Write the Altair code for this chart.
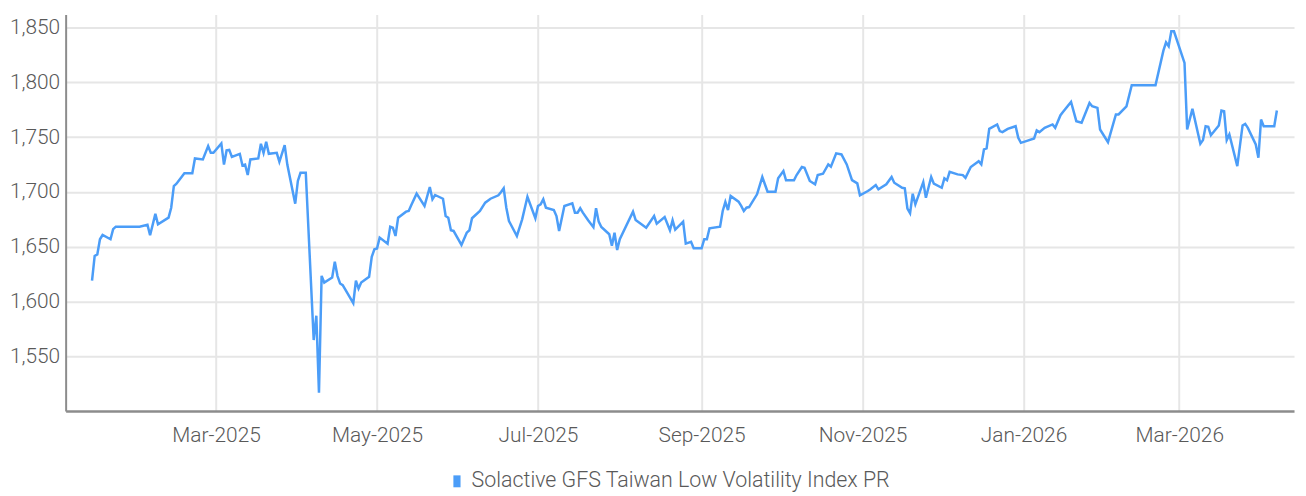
import altair as alt
import pandas as pd

SERIES_NAME = "Solactive GFS Taiwan Low Volatility Index PR"

dates = [
    "2025-01-13", "2025-01-14", "2025-01-15", "2025-01-16", "2025-01-17", "2025-01-20", "2025-01-21", "2025-01-22",
    "2025-01-31", "2025-02-03", "2025-02-04", "2025-02-06", "2025-02-07", "2025-02-11", "2025-02-12", "2025-02-13",
    "2025-02-14", "2025-02-17", "2025-02-20", "2025-02-21", "2025-02-24", "2025-02-26", "2025-02-27", "2025-02-28",
    "2025-03-03", "2025-03-04", "2025-03-05", "2025-03-06", "2025-03-07", "2025-03-10", "2025-03-11", "2025-03-12",
    "2025-03-13", "2025-03-14", "2025-03-17",
    "2025-03-18", "2025-03-19", "2025-03-20", "2025-03-21", "2025-03-24", "2025-03-25", "2025-03-27", "2025-03-28",
    "2025-03-31", "2025-04-01", "2025-04-02", "2025-04-04", "2025-04-07", "2025-04-08", "2025-04-09", "2025-04-10",
    "2025-04-11", "2025-04-14", "2025-04-15", "2025-04-16", "2025-04-17", "2025-04-18", "2025-04-22", "2025-04-23",
    "2025-04-24", "2025-04-25", "2025-04-28", "2025-04-29", "2025-04-30", "2025-05-01", "2025-05-02", "2025-05-05",
    "2025-05-06", "2025-05-07", "2025-05-08", "2025-05-09", "2025-05-12", "2025-05-13", "2025-05-14", "2025-05-16",
    "2025-05-19",
    "2025-05-21", "2025-05-22", "2025-05-23", "2025-05-26", "2025-05-27", "2025-05-28", "2025-05-29", "2025-05-30",
    "2025-06-02", "2025-06-04", "2025-06-05", "2025-06-06", "2025-06-09", "2025-06-11", "2025-06-13", "2025-06-16",
    "2025-06-17", "2025-06-18", "2025-06-19", "2025-06-20", "2025-06-23", "2025-06-25", "2025-06-27", "2025-06-30",
    "2025-07-01", "2025-07-02", "2025-07-03", "2025-07-04", "2025-07-07", "2025-07-08", "2025-07-09", "2025-07-11",
    "2025-07-14", "2025-07-15", "2025-07-16", "2025-07-17", "2025-07-18", "2025-07-20", "2025-07-22", "2025-07-23",
    "2025-07-24", "2025-07-25", "2025-07-28", "2025-07-29", "2025-07-30", "2025-07-31", "2025-08-01", "2025-08-06",
    "2025-08-07", "2025-08-11", "2025-08-14", "2025-08-15", "2025-08-18", "2025-08-20", "2025-08-21", "2025-08-22",
    "2025-08-25", "2025-08-26", "2025-08-28", "2025-08-29", "2025-09-01", "2025-09-02", "2025-09-03", "2025-09-04",
    "2025-09-08", "2025-09-09", "2025-09-10", "2025-09-11", "2025-09-12", "2025-09-15", "2025-09-16", "2025-09-17",
    "2025-09-18", "2025-09-19", "2025-09-22", "2025-09-24", "2025-09-26",
    "2025-09-29", "2025-09-30", "2025-10-02", "2025-10-03", "2025-10-06", "2025-10-07", "2025-10-09", "2025-10-10",
    "2025-10-12", "2025-10-14", "2025-10-15", "2025-10-17", "2025-10-19", "2025-10-20", "2025-10-22", "2025-10-24",
    "2025-10-26", "2025-10-28", "2025-10-30", "2025-10-31", "2025-11-03", "2025-11-04", "2025-11-06", "2025-11-07",
    "2025-11-10", "2025-11-12", "2025-11-13", "2025-11-16", "2025-11-17", "2025-11-18", "2025-11-19", "2025-11-20",
    "2025-11-21", "2025-11-24", "2025-11-25", "2025-11-27",
    "2025-11-28", "2025-12-01", "2025-12-02", "2025-12-03", "2025-12-04", "2025-12-07", "2025-12-09", "2025-12-10",
    "2025-12-12", "2025-12-15", "2025-12-16", "2025-12-17", "2025-12-18", "2025-12-19", "2025-12-22", "2025-12-23",
    "2025-12-24", "2025-12-26", "2025-12-29", "2025-12-30", "2025-12-31", "2026-01-02", "2026-01-05", "2026-01-06",
    "2026-01-07", "2026-01-09", "2026-01-12", "2026-01-13", "2026-01-15", "2026-01-16", "2026-01-19", "2026-01-21",
    "2026-01-23", "2026-01-26", "2026-01-27", "2026-01-29", "2026-01-30",
    "2026-02-02", "2026-02-05", "2026-02-06", "2026-02-09", "2026-02-11", "2026-02-20", "2026-02-23", "2026-02-24",
    "2026-02-25", "2026-02-26", "2026-02-27", "2026-03-03", "2026-03-04", "2026-03-06", "2026-03-09", "2026-03-10",
    "2026-03-11", "2026-03-12", "2026-03-13", "2026-03-16", "2026-03-17", "2026-03-18", "2026-03-19", "2026-03-20",
    "2026-03-23", "2026-03-25", "2026-03-26", "2026-03-27", "2026-03-30", "2026-03-31", "2026-04-01", "2026-04-02",
    "2026-04-06", "2026-04-07",
]

values = [
    1619.0, 1641.6, 1643.0, 1656.8, 1660.7, 1656.8, 1666.0, 1668.3,
    1668.3, 1670.0, 1660.5, 1680.0, 1670.5, 1676.5, 1685.6, 1705.4,
    1707.5, 1717.0, 1717.0, 1730.6, 1729.7, 1741.8, 1735.7, 1735.7,
    1744.3, 1725.0, 1737.9, 1738.4, 1732.0, 1734.8, 1724.2, 1725.0,
    1715.4, 1729.7, 1730.6,
    1743.9, 1735.7, 1745.7, 1734.8, 1735.7, 1727.5, 1742.7, 1725.0,
    1689.3, 1710.0, 1717.5, 1717.5, 1564.8, 1587.0, 1516.6, 1623.4,
    1617.3, 1621.9, 1636.2, 1623.4, 1616.4, 1614.9, 1598.5, 1618.9,
    1611.8, 1617.3, 1622.5, 1640.7, 1647.7, 1648.3, 1658.3, 1652.8,
    1668.3, 1667.4, 1659.8, 1676.5, 1682.0, 1682.6, 1688.0, 1698.4,
    1687.2,
    1704.5, 1693.3, 1697.2, 1693.8, 1678.0, 1676.5, 1665.0, 1664.4,
    1651.6, 1662.8, 1665.0, 1676.0, 1682.6, 1690.2, 1693.8, 1696.9,
    1699.9, 1703.3, 1685.6, 1673.5, 1659.8, 1675.0, 1695.6, 1676.0,
    1687.2, 1688.7, 1693.3, 1685.6, 1683.5, 1678.0, 1664.4, 1687.2,
    1689.6, 1681.1, 1681.1, 1685.1, 1681.1, 1674.1, 1667.8, 1685.1,
    1672.9, 1668.0, 1661.4, 1650.8, 1662.8, 1647.0, 1656.8, 1682.0,
    1674.4, 1667.4, 1678.0, 1671.1, 1677.1, 1665.0, 1674.1, 1665.6,
    1672.9, 1652.8, 1654.4, 1648.6, 1648.6, 1656.8, 1656.8, 1666.8,
    1668.3, 1682.6, 1690.8, 1683.5, 1696.3, 1691.1, 1687.2, 1682.6,
    1685.6, 1686.2, 1697.8, 1713.6, 1700.2,
    1700.2, 1712.4, 1719.0, 1710.6, 1710.6, 1715.4, 1722.7, 1722.0,
    1710.0, 1707.0, 1715.4, 1716.6, 1725.1, 1723.0, 1735.2, 1734.2,
    1725.1, 1710.8, 1707.8, 1696.9, 1700.8, 1702.4, 1706.3, 1702.4,
    1707.0, 1713.6, 1708.4, 1703.8, 1703.3, 1684.7, 1680.5, 1698.4,
    1688.7, 1709.0, 1694.7, 1713.6,
    1707.5, 1703.8, 1712.4, 1710.6, 1718.4, 1716.0, 1715.4, 1712.9,
    1722.7, 1728.1, 1725.1, 1738.8, 1739.7, 1757.6, 1761.6, 1755.5,
    1754.6, 1757.6, 1760.0, 1749.4, 1744.8, 1746.4, 1748.8, 1756.1,
    1754.6, 1758.5, 1761.6, 1758.5, 1770.0, 1773.1, 1782.2, 1764.6,
    1763.1, 1781.2, 1778.2, 1776.7, 1757.0,
    1745.4, 1770.7, 1770.7, 1778.2, 1797.4, 1797.4, 1829.0, 1836.6,
    1833.0, 1846.6, 1846.6, 1817.8, 1757.0, 1775.8, 1743.9, 1747.3,
    1760.0, 1759.4, 1751.8, 1760.7, 1774.3, 1773.7, 1747.3, 1752.5,
    1723.6, 1760.7, 1762.1, 1758.5, 1743.4, 1731.2, 1766.1, 1760.0,
    1760.0, 1774.3,
]

y_ticks = [1550, 1600, 1650, 1700, 1750, 1800, 1850]
x_tick_months = [(2025, 3), (2025, 5), (2025, 7), (2025, 9), (2025, 11), (2026, 1), (2026, 3)]

LINE_COLOR = "#4b9df8"
TEXT_COLOR = "#595959"
GRID_COLOR = "#e6e6e6"
AXIS_COLOR = "#8c8c8c"
FONT = "Roboto"

df = pd.DataFrame({"date": dates, "value": values, "series": SERIES_NAME})

x_axis = alt.Axis(
    title=None,
    format="%b-%Y",
    values=[alt.DateTime(year=y, month=m, date=1, utc=True) for y, m in x_tick_months],
    grid=True,
    gridColor=GRID_COLOR,
    gridWidth=2,
    ticks=False,
    domainColor=AXIS_COLOR,
    domainWidth=2.5,
    labelFont=FONT,
    labelFontWeight=300,
    labelFontSize=21,
    labelColor=TEXT_COLOR,
    labelPadding=14,
)

y_axis = alt.Axis(
    title=None,
    values=y_ticks,
    format=",.0f",
    grid=True,
    gridColor=GRID_COLOR,
    gridWidth=2,
    ticks=False,
    domainColor=AXIS_COLOR,
    domainWidth=2,
    labelFont=FONT,
    labelFontWeight=300,
    labelFontSize=21,
    labelColor=TEXT_COLOR,
    labelPadding=6,
)

legend = alt.Legend(
    title=None,
    orient="none",
    legendX=383,
    legendY=459,
    symbolType="M-0.6,-1L0.6,-1L0.6,1L-0.6,1Z",
    symbolSize=144,
    symbolFillColor=LINE_COLOR,
    symbolStrokeColor=LINE_COLOR,
    symbolStrokeWidth=0,
    labelFont=FONT,
    labelFontWeight=300,
    labelFontSize=21.5,
    labelColor=TEXT_COLOR,
    labelOffset=4,
    labelLimit=700,
    padding=0,
)

chart = (
    alt.Chart(df)
    .mark_line(strokeWidth=2.5, color=LINE_COLOR)
    .encode(
        x=alt.X(
            "date:T",
            scale=alt.Scale(
                type="utc",
                domain=[
                    alt.DateTime(year=2025, month=1, date=3, utc=True),
                    alt.DateTime(year=2026, month=4, date=13, hours=12, utc=True),
                ],
            ),
            axis=x_axis,
        ),
        y=alt.Y(
            "value:Q",
            scale=alt.Scale(domain=[1500, 1862], nice=False, zero=False),
            axis=y_axis,
        ),
        color=alt.Color("series:N", scale=alt.Scale(range=[LINE_COLOR]), legend=legend),
    )
    .properties(
        width=1236,
        height=399,
        autosize=alt.AutoSizeParams(type="none"),
        padding={"left": 58, "top": 5, "right": 4, "bottom": 84},
    )
    .configure_view(strokeWidth=0)
)

chart.save("out.html", embed_options={"renderer": "svg", "actions": False})
